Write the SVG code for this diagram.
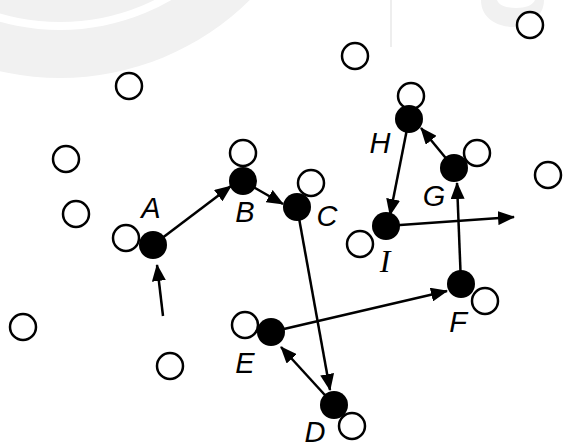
<svg xmlns="http://www.w3.org/2000/svg" width="563" height="448" viewBox="0 0 563 448">
<defs>
<style>
.wm{fill:#f1f1f1;stroke:none}
.open{fill:#fff;stroke:#000;stroke-width:2.5}
.blk{fill:#000;stroke:none}
.edge{stroke:#000;stroke-width:2.5;fill:none;marker-end:url(#ah)}
.lbl{font-family:"Liberation Sans",Arial,sans-serif;font-style:italic;font-size:29px;text-anchor:middle;fill:#000}
.lbls{font-family:"Liberation Serif","Times New Roman",serif;font-style:italic;font-size:32px;text-anchor:middle;fill:#000}
</style>
<marker id="ah" markerUnits="userSpaceOnUse" markerWidth="17" markerHeight="14" refX="16" refY="7" orient="auto">
<path d="M0,0 L17,7 L0,14 z" fill="#000"/>
</marker>
</defs>
<rect width="563" height="448" fill="#fff"/>
<g id="watermark">
<path class="wm" fill-rule="evenodd" d="M60,-192 m-270,0 a270,270 0 1,0 540,0 a270,270 0 1,0 -540,0 z M60,-192 m-222,0 a222,222 0 1,0 444,0 a222,222 0 1,0 -444,0 z"/>
<circle class="wm" cx="60" cy="-192" r="214"/>
<line x1="391" y1="0" x2="391" y2="47" stroke="#e8e8e8" stroke-width="1.5"/>
<path class="wm" fill-rule="evenodd" d="M481,0 C481,20 500,27 513,27 C530,27 544,16 544,0 Z M497,0 C499,6 508,8 516,8 C526,8 533,5 535,0 Z"/>
</g>
<g id="connectors">
<line class="edge" x1="163" y1="316" x2="157" y2="265"/>
<line class="edge" x1="153" y1="245" x2="231" y2="186"/>
<line class="edge" x1="243" y1="181" x2="283" y2="204"/>
<line class="edge" x1="297" y1="207" x2="330" y2="390"/>
<line class="edge" x1="334" y1="405" x2="281" y2="347"/>
<line class="edge" x1="271" y1="332" x2="447" y2="291"/>
<line class="edge" x1="461" y1="284" x2="457" y2="183"/>
<line class="edge" x1="454" y1="168" x2="421" y2="128"/>
<line class="edge" x1="409" y1="119" x2="390" y2="215"/>
<line class="edge" x1="386" y1="226" x2="514" y2="217"/>
</g>
<g id="free-nodes">
<circle class="open" cx="129" cy="86" r="13"/>
<circle class="open" cx="355" cy="56" r="13"/>
<circle class="open" cx="530" cy="25" r="13"/>
<circle class="open" cx="66" cy="159" r="13"/>
<circle class="open" cx="76" cy="214" r="13"/>
<circle class="open" cx="548" cy="175" r="13"/>
<circle class="open" cx="23" cy="327" r="13"/>
<circle class="open" cx="170" cy="366" r="13"/>
</g>
<g id="node-A">
<circle class="open" cx="126" cy="238" r="13"/>
<circle class="blk" cx="153" cy="245" r="14"/>
<text class="lbl" x="151" y="218">A</text>
</g>
<g id="node-B">
<circle class="open" cx="243" cy="153" r="13"/>
<circle class="blk" cx="243" cy="181" r="14"/>
<text class="lbl" x="245" y="222">B</text>
</g>
<g id="node-C">
<circle class="open" cx="311" cy="183" r="13"/>
<circle class="blk" cx="297" cy="207" r="14"/>
<text class="lbl" x="327" y="226">C</text>
</g>
<g id="node-D">
<circle class="open" cx="352" cy="426" r="13"/>
<circle class="blk" cx="334" cy="405" r="14"/>
<text class="lbl" x="315" y="442">D</text>
</g>
<g id="node-E">
<circle class="open" cx="245" cy="325" r="13"/>
<circle class="blk" cx="271" cy="332" r="14"/>
<text class="lbl" x="245" y="373">E</text>
</g>
<g id="node-F">
<circle class="open" cx="485" cy="301" r="13"/>
<circle class="blk" cx="461" cy="284" r="14"/>
<text class="lbl" x="458" y="332">F</text>
</g>
<g id="node-G">
<circle class="open" cx="477" cy="153" r="13"/>
<circle class="blk" cx="454" cy="168" r="14"/>
<text class="lbl" x="434" y="206">G</text>
</g>
<g id="node-H">
<circle class="open" cx="411" cy="96" r="13"/>
<circle class="blk" cx="409" cy="119" r="14"/>
<text class="lbl" x="380" y="153">H</text>
</g>
<g id="node-I">
<circle class="open" cx="360" cy="244" r="13"/>
<circle class="blk" cx="386" cy="226" r="14"/>
<text class="lbls" x="385" y="272">I</text>
</g>
</svg>
